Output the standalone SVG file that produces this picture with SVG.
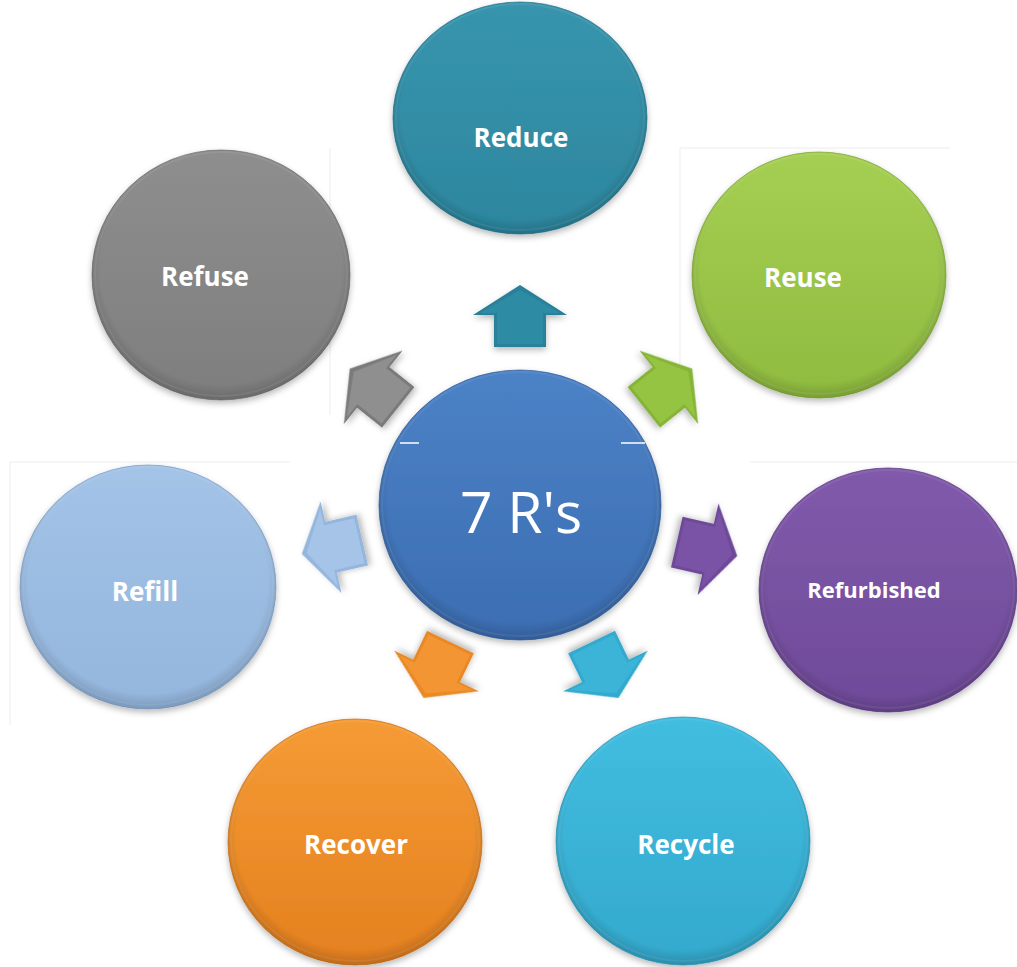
<svg xmlns="http://www.w3.org/2000/svg" width="1017" height="967" viewBox="0 0 1017 967">
  <style>
    .lbl { font-family: "Open Sans", "Liberation Sans", sans-serif; font-weight: 700; fill: #ffffff; text-anchor: middle; font-size: 26px; }
    .small { font-size: 22px; }
    .center { font-family: "Open Sans", "Liberation Sans", sans-serif; font-weight: 400; fill: #ffffff; text-anchor: middle; font-size: 57px; }
    .rim { fill: none; stroke: #ffffff; stroke-opacity: 0.07; stroke-width: 2; }
    .edge { stroke-width: 1; stroke-opacity: 0.7; }
    .faint { stroke: #ededed; stroke-width: 1; fill: none; }
    .tick { stroke: #ffffff; stroke-width: 1.5; }
  </style>
  <defs>
    <filter id="sh" x="-20%" y="-20%" width="140%" height="140%">
      <feDropShadow dx="0" dy="3" stdDeviation="3" flood-color="#000" flood-opacity="0.28"/>
    </filter>
    <radialGradient id="shade" cx="0.5" cy="0.47" r="0.52">
      <stop offset="0.9" stop-color="#000" stop-opacity="0"/>
      <stop offset="1" stop-color="#000" stop-opacity="0.14"/>
    </radialGradient>
    <linearGradient id="gReduce" x1="0" y1="0" x2="0" y2="1"><stop offset="0" stop-color="#3795ad"/><stop offset="1" stop-color="#2c869e"/></linearGradient>
    <linearGradient id="gReuse" x1="0" y1="0" x2="0" y2="1"><stop offset="0" stop-color="#a5cf52"/><stop offset="1" stop-color="#8fbb40"/></linearGradient>
    <linearGradient id="gRefurb" x1="0" y1="0" x2="0" y2="1"><stop offset="0" stop-color="#815aab"/><stop offset="1" stop-color="#6f4a99"/></linearGradient>
    <linearGradient id="gRecycle" x1="0" y1="0" x2="0" y2="1"><stop offset="0" stop-color="#41bde0"/><stop offset="1" stop-color="#33a9cd"/></linearGradient>
    <linearGradient id="gRecover" x1="0" y1="0" x2="0" y2="1"><stop offset="0" stop-color="#f59b35"/><stop offset="1" stop-color="#e4801f"/></linearGradient>
    <linearGradient id="gRefill" x1="0" y1="0" x2="0" y2="1"><stop offset="0" stop-color="#a3c3e7"/><stop offset="1" stop-color="#94b6dd"/></linearGradient>
    <linearGradient id="gRefuse" x1="0" y1="0" x2="0" y2="1"><stop offset="0" stop-color="#8e8e8e"/><stop offset="1" stop-color="#7e7e7e"/></linearGradient>
    <linearGradient id="gCenter" x1="0" y1="0" x2="0" y2="1"><stop offset="0" stop-color="#4c82c6"/><stop offset="1" stop-color="#3b6db2"/></linearGradient>
    <path id="arrowOuter" d="M0,-31 L47,-1 L26,-1 L26,31 L-26,31 L-26,-1 L-47,-1 Z"/>
    <path id="arrowInner" d="M0,-26 L40,-3 L23,-3 L23,28 L-23,28 L-23,-3 L-40,-3 Z"/>
  </defs>

  <g id="background-frames">
    <line class="faint" x1="680" y1="148" x2="950" y2="148"/>
    <line class="faint" x1="680" y1="148" x2="680" y2="415"/>
    <line class="faint" x1="750" y1="462" x2="1017" y2="462"/>
    <line class="faint" x1="10" y1="462" x2="290" y2="462"/>
    <line class="faint" x1="10" y1="462" x2="10" y2="725"/>
    <line class="faint" x1="330" y1="148" x2="330" y2="415"/>
  </g>

  <g id="connectors">
    <g transform="translate(520,316) rotate(0)" filter="url(#sh)">
      <use href="#arrowOuter" fill="#2a8099"/><use href="#arrowInner" fill="#2f8ba4"/>
    </g>
    <g transform="translate(668,388) rotate(51.4)" filter="url(#sh)">
      <use href="#arrowOuter" fill="#86b438"/><use href="#arrowInner" fill="#95c342"/>
    </g>
    <g transform="translate(707,549) rotate(102.9)" filter="url(#sh)">
      <use href="#arrowOuter" fill="#6d4898"/><use href="#arrowInner" fill="#7a52a7"/>
    </g>
    <g transform="translate(605,670) rotate(154.3)" filter="url(#sh)">
      <use href="#arrowOuter" fill="#32a9cd"/><use href="#arrowInner" fill="#3bb4d8"/>
    </g>
    <g transform="translate(437,670) rotate(205.7)" filter="url(#sh)">
      <use href="#arrowOuter" fill="#e98926"/><use href="#arrowInner" fill="#f39532"/>
    </g>
    <g transform="translate(332,547) rotate(257.1)" filter="url(#sh)">
      <use href="#arrowOuter" fill="#93b5de"/><use href="#arrowInner" fill="#a5c4e8"/>
    </g>
    <g transform="translate(374,388) rotate(308.6)" filter="url(#sh)">
      <use href="#arrowOuter" fill="#7a7a7a"/><use href="#arrowInner" fill="#8f8f8f"/>
    </g>
  </g>

  <g id="node-center">
    <ellipse cx="520" cy="505" rx="141" ry="135" fill="url(#gCenter)" stroke="#2f5d9a" class="edge" filter="url(#sh)"/>
    <ellipse cx="520" cy="505" rx="141" ry="135" fill="url(#shade)"/>
    <ellipse cx="520" cy="504" rx="138" ry="132" class="rim"/>
    <line class="tick" x1="400" y1="443" x2="419" y2="443"/>
    <line class="tick" x1="621" y1="443" x2="645" y2="443"/>
    <text class="center" x="521" y="533">7 R's</text>
  </g>

  <g id="node-reduce">
    <ellipse cx="520" cy="118" rx="127" ry="116" fill="url(#gReduce)" stroke="#22708a" class="edge" filter="url(#sh)"/>
    <ellipse cx="520" cy="118" rx="127" ry="116" fill="url(#shade)"/>
    <ellipse cx="520" cy="117" rx="124" ry="113" class="rim"/>
    <text class="lbl" x="521" y="147">Reduce</text>
  </g>

  <g id="node-reuse">
    <ellipse cx="819" cy="275" rx="127" ry="123" fill="url(#gReuse)" stroke="#7aa333" class="edge" filter="url(#sh)"/>
    <ellipse cx="819" cy="275" rx="127" ry="123" fill="url(#shade)"/>
    <ellipse cx="819" cy="274" rx="124" ry="120" class="rim"/>
    <text class="lbl" x="803" y="287">Reuse</text>
  </g>

  <g id="node-refurbished">
    <ellipse cx="888" cy="590" rx="129" ry="122" fill="url(#gRefurb)" stroke="#5c3b84" class="edge" filter="url(#sh)"/>
    <ellipse cx="888" cy="590" rx="129" ry="122" fill="url(#shade)"/>
    <ellipse cx="888" cy="589" rx="126" ry="119" class="rim"/>
    <text class="lbl small" x="874" y="598">Refurbished</text>
  </g>

  <g id="node-recycle">
    <ellipse cx="683" cy="841" rx="127" ry="124" fill="url(#gRecycle)" stroke="#2993b5" class="edge" filter="url(#sh)"/>
    <ellipse cx="683" cy="841" rx="127" ry="124" fill="url(#shade)"/>
    <ellipse cx="683" cy="840" rx="124" ry="121" class="rim"/>
    <text class="lbl" x="686" y="854">Recycle</text>
  </g>

  <g id="node-recover">
    <ellipse cx="355" cy="842" rx="127" ry="123" fill="url(#gRecover)" stroke="#c96d14" class="edge" filter="url(#sh)"/>
    <ellipse cx="355" cy="842" rx="127" ry="123" fill="url(#shade)"/>
    <ellipse cx="355" cy="841" rx="124" ry="120" class="rim"/>
    <text class="lbl" x="356" y="854">Recover</text>
  </g>

  <g id="node-refill">
    <ellipse cx="148" cy="587" rx="128" ry="122" fill="url(#gRefill)" stroke="#7c9dc7" class="edge" filter="url(#sh)"/>
    <ellipse cx="148" cy="587" rx="128" ry="122" fill="url(#shade)"/>
    <ellipse cx="148" cy="586" rx="125" ry="119" class="rim"/>
    <text class="lbl" x="145" y="601">Refill</text>
  </g>

  <g id="node-refuse">
    <ellipse cx="221" cy="275" rx="129" ry="125" fill="url(#gRefuse)" stroke="#6a6a6a" class="edge" filter="url(#sh)"/>
    <ellipse cx="221" cy="275" rx="129" ry="125" fill="url(#shade)"/>
    <ellipse cx="221" cy="274" rx="126" ry="122" class="rim"/>
    <text class="lbl" x="205" y="286">Refuse</text>
  </g>
</svg>
